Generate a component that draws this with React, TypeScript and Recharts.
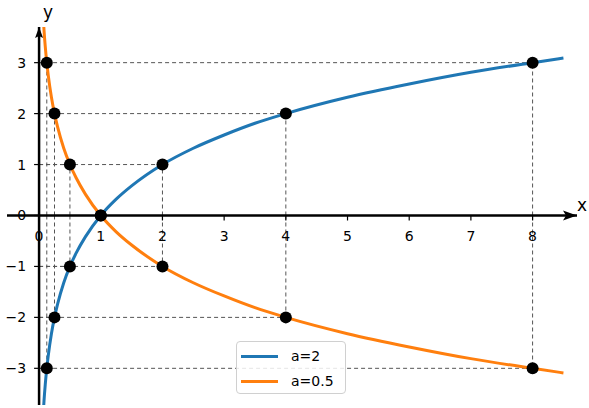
import { ComposedChart, Line, Scatter, XAxis, YAxis, ReferenceLine, ReferenceDot } from 'recharts';

// sample x positions along the curves, with the y values
const sampleX = [0.06, 0.07, 0.08, 0.1, 0.125, 0.15, 0.2, 0.25, 0.3, 0.4, 0.5, 0.6, 0.75, 1, 1.25, 1.5, 2, 2.5, 3, 3.5, 4, 5, 6, 7, 8, 8.5];
const curveA2 = [-4.06, -3.84, -3.64, -3.32, -3, -2.74, -2.32, -2, -1.74, -1.32, -1, -0.74, -0.42, 0, 0.32, 0.58, 1, 1.32, 1.58, 1.81, 2, 2.32, 2.58, 2.81, 3, 3.09];
const curveHalf = [4.06, 3.84, 3.64, 3.32, 3, 2.74, 2.32, 2, 1.74, 1.32, 1, 0.74, 0.42, 0, -0.32, -0.58, -1, -1.32, -1.58, -1.81, -2, -2.32, -2.58, -2.81, -3, -3.09];

// marked points
const markX = [0.125, 0.25, 0.5, 1, 2, 4, 8];
const markA2 = [-3, -2, -1, 0, 1, 2, 3];
const markHalf = [3, 2, 1, 0, -1, -2, -3];

const xTicks = [0, 1, 2, 3, 4, 5, 6, 7, 8];
const yTicks = [-3, -2, -1, 0, 1, 2, 3];

const seriesNames = ['a=2', 'a=0.5'];
const BLUE = '#1f77b4';
const ORANGE = '#ff7f0e';
const FONT = 'DejaVu Sans, sans-serif';

const dataA2 = sampleX.map((x, i) => ({ x, y: curveA2[i] }));
const dataHalf = sampleX.map((x, i) => ({ x, y: curveHalf[i] }));
const points = [
  ...markX.map((x, i) => ({ x, y: markA2[i] })),
  ...markX.map((x, i) => ({ x, y: markHalf[i] })),
];

// dashed guides from each point back to both axes
const guides = points
  .filter((p) => p.y !== 0)
  .flatMap((p) => [
    [{ x: 0, y: p.y }, { x: p.x, y: p.y }],
    [{ x: p.x, y: 0 }, { x: p.x, y: p.y }],
  ]);

const X_MIN = -0.52;
const X_MAX = 8.72;
const Y_MIN = -3.72;
const Y_MAX = 3.7;

const fmt = (v: number) => (v < 0 ? `\u2212${Math.abs(v)}` : `${v}`);

export default function App() {
  return (
    <div style={{ position: 'absolute', left: 0, top: 0, width: 589, height: 408, background: '#fff', fontFamily: FONT }}>
      <ComposedChart width={589} height={408} margin={{ top: 27, right: 12, bottom: 3, left: 7 }}>
        <XAxis type="number" dataKey="x" domain={[X_MIN, X_MAX]} allowDataOverflow hide />
        <YAxis type="number" dataKey="y" domain={[Y_MIN, Y_MAX]} allowDataOverflow hide />

        {guides.map((seg, i) => (
          <ReferenceLine key={`g${i}`} segment={seg} stroke="#555" strokeWidth={1} strokeDasharray="4 3" />
        ))}

        <ReferenceLine y={0} stroke="#000" strokeWidth={2.5} />
        <ReferenceLine x={0} stroke="#000" strokeWidth={2.5} />

        {xTicks.map((t) => (
          <ReferenceDot
            key={`xt${t}`}
            x={t}
            y={0}
            ifOverflow="visible"
            shape={(p: any) => (
              <g>
                <line x1={p.cx} y1={p.cy} x2={p.cx} y2={p.cy + 5} stroke="#000" strokeWidth={1.2} />
                <text x={p.cx} y={p.cy + 26} textAnchor="middle" fontSize={14} fontFamily={FONT} fill="#000">
                  {fmt(t)}
                </text>
              </g>
            )}
          />
        ))}
        {yTicks.map((t) => (
          <ReferenceDot
            key={`yt${t}`}
            x={0}
            y={t}
            ifOverflow="visible"
            shape={(p: any) => (
              <g>
                <line x1={p.cx - 5} y1={p.cy} x2={p.cx} y2={p.cy} stroke="#000" strokeWidth={1.2} />
                <text x={p.cx - 13} y={p.cy + 5} textAnchor="end" fontSize={14} fontFamily={FONT} fill="#000">
                  {fmt(t)}
                </text>
              </g>
            )}
          />
        ))}

        <ReferenceDot
          x={X_MAX}
          y={0}
          ifOverflow="visible"
          shape={(p: any) => (
            <g>
              <polygon points={`${p.cx},${p.cy} ${p.cx - 14},${p.cy - 5} ${p.cx - 11},${p.cy} ${p.cx - 14},${p.cy + 5}`} fill="#000" />
              <text x={p.cx + 5} y={p.cy - 4} textAnchor="middle" fontSize={17} fontFamily={FONT} fill="#000">
                x
              </text>
            </g>
          )}
        />
        <ReferenceDot
          x={0}
          y={Y_MAX}
          ifOverflow="visible"
          shape={(p: any) => (
            <g>
              <polygon points={`${p.cx},${p.cy} ${p.cx - 4},${p.cy + 11} ${p.cx},${p.cy + 9} ${p.cx + 4},${p.cy + 11}`} fill="#000" />
              <text x={p.cx + 9} y={p.cy - 9} textAnchor="middle" fontSize={17} fontFamily={FONT} fill="#000">
                y
              </text>
            </g>
          )}
        />

        <Line data={dataA2} dataKey="y" name={seriesNames[0]} type="monotone" stroke={BLUE} strokeWidth={3} dot={false} isAnimationActive={false} />
        <Line data={dataHalf} dataKey="y" name={seriesNames[1]} type="monotone" stroke={ORANGE} strokeWidth={3} dot={false} isAnimationActive={false} />
        <Scatter
          data={points}
          legendType="none"
          isAnimationActive={false}
          shape={(p: any) => <circle cx={p.cx} cy={p.cy} r={6} fill="#000" />}
        />
      </ComposedChart>

      <div
        style={{
          position: 'absolute',
          left: 236,
          top: 341,
          width: 110,
          height: 53,
          boxSizing: 'border-box',
          border: '1px solid #d0d0d0',
          borderRadius: 4,
          background: 'rgba(255,255,255,0.85)',
          fontSize: 14,
          fontFamily: FONT,
        }}
      >
        {seriesNames.map((name, i) => (
          <div key={name} style={{ position: 'absolute', left: 4, top: 5 + i * 25, height: 18, display: 'flex', alignItems: 'center' }}>
            <span style={{ display: 'inline-block', width: 37, height: 3, background: i === 0 ? BLUE : ORANGE }} />
            <span style={{ marginLeft: 13 }}>{name}</span>
          </div>
        ))}
      </div>
    </div>
  );
}
